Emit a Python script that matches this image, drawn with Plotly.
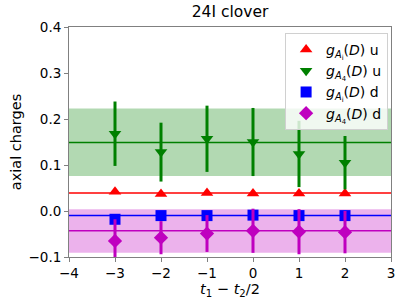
import plotly.graph_objects as go

x = [-3, -2, -1, 0, 1, 2]

# g_Ai(D) u  (red)
red_y = [0.042, 0.037, 0.039, 0.038, 0.038, 0.038]
red_err = [0.004, 0.004, 0.004, 0.004, 0.004, 0.004]
red_fit = 0.0394

# g_A4(D) u  (green)
green_y = [0.168, 0.128, 0.157, 0.150, 0.124, 0.105]
green_err = [0.070, 0.064, 0.072, 0.074, 0.072, 0.058]
green_fit = 0.149
green_band = [0.076, 0.223]

# g_Ai(D) d  (blue)
blue_y = [-0.018, -0.010, -0.010, -0.009, -0.010, -0.010]
blue_err = [0.004, 0.004, 0.004, 0.004, 0.004, 0.004]
blue_fit = -0.0098

# g_A4(D) d  (magenta)
mag_y = [-0.065, -0.058, -0.049, -0.043, -0.045, -0.046]
mag_err = [0.047, 0.036, 0.040, 0.048, 0.049, 0.046]
mag_fit = -0.043
mag_band = [-0.091, 0.004]

x_range = [-4, 3]

fig = go.Figure()

def band(lo, hi, color):
    fig.add_trace(go.Scatter(x=x_range, y=[lo, lo], mode="lines", line=dict(width=0),
                             showlegend=False, hoverinfo="skip"))
    fig.add_trace(go.Scatter(x=x_range, y=[hi, hi], mode="lines", line=dict(width=0),
                             fill="tonexty", fillcolor=color, showlegend=False, hoverinfo="skip"))

band(green_band[0], green_band[1], "rgba(0,128,0,0.3)")
band(mag_band[0], mag_band[1], "rgba(191,0,191,0.3)")

for val, col in [(green_fit, "green"), (red_fit, "red"), (blue_fit, "blue"), (mag_fit, "#bf00bf")]:
    fig.add_trace(go.Scatter(x=x_range, y=[val, val], mode="lines", line=dict(color=col, width=1.5),
                             showlegend=False, hoverinfo="skip"))

series = [
    (red_y, red_err, "red", "triangle-up", "<i>g</i><sub><i>A</i><sub>i</sub></sub>(<i>D</i>) u"),
    (green_y, green_err, "green", "triangle-down", "<i>g</i><sub><i>A</i><sub>4</sub></sub>(<i>D</i>) u"),
    (blue_y, blue_err, "blue", "square", "<i>g</i><sub><i>A</i><sub>i</sub></sub>(<i>D</i>) d"),
    (mag_y, mag_err, "#bf00bf", "diamond", "<i>g</i><sub><i>A</i><sub>4</sub></sub>(<i>D</i>) d"),
]
for i, (ys, es, col, sym, name) in enumerate(series):
    fig.add_trace(go.Scatter(
        x=x, y=ys, mode="markers", name=name, legendgroup=f"g{i}",
        marker=dict(color=col, symbol=sym, size=11, line=dict(width=0)),
        error_y=dict(type="data", array=es, visible=True, color=col, thickness=3, width=0),
    ))

axis_common = dict(showline=True, linecolor="#808080", linewidth=1, mirror=True,
                   ticks="outside", ticklen=4, tickcolor="#808080", showgrid=False,
                   zeroline=False, tickfont=dict(size=13.5, color="black"))

fig.update_layout(
    width=407, height=305,
    margin=dict(l=69, r=12, t=27, b=48),
    plot_bgcolor="white", paper_bgcolor="white",
    font=dict(family="DejaVu Sans", color="black", size=13.5),
    title=dict(text="24I clover", x=0.5, xref="paper", y=0.962, yanchor="middle",
               font=dict(size=15.5)),
    xaxis=dict(range=x_range, dtick=1, tick0=-4,
               title=dict(text="<i>t</i><sub>1</sub> − <i>t</i><sub>2</sub>/2", standoff=0,
                          font=dict(size=14.5)),
               **axis_common),
    yaxis=dict(range=[-0.1, 0.4], dtick=0.1, tickformat=".1f",
               title=dict(text="axial charges", standoff=3, font=dict(size=14.5)),
               **axis_common),
    legend=dict(x=0.991, y=0.974, xanchor="right", yanchor="top",
                traceorder="normal",
                bgcolor="rgba(255,255,255,0.8)", bordercolor="#d0d0d0", borderwidth=1,
                font=dict(size=14), tracegroupgap=3, itemwidth=30),
    showlegend=True,
)

fig.write_html("out.html", config={"displayModeBar": False},
               post_script="document.body.style.margin='0px';")
